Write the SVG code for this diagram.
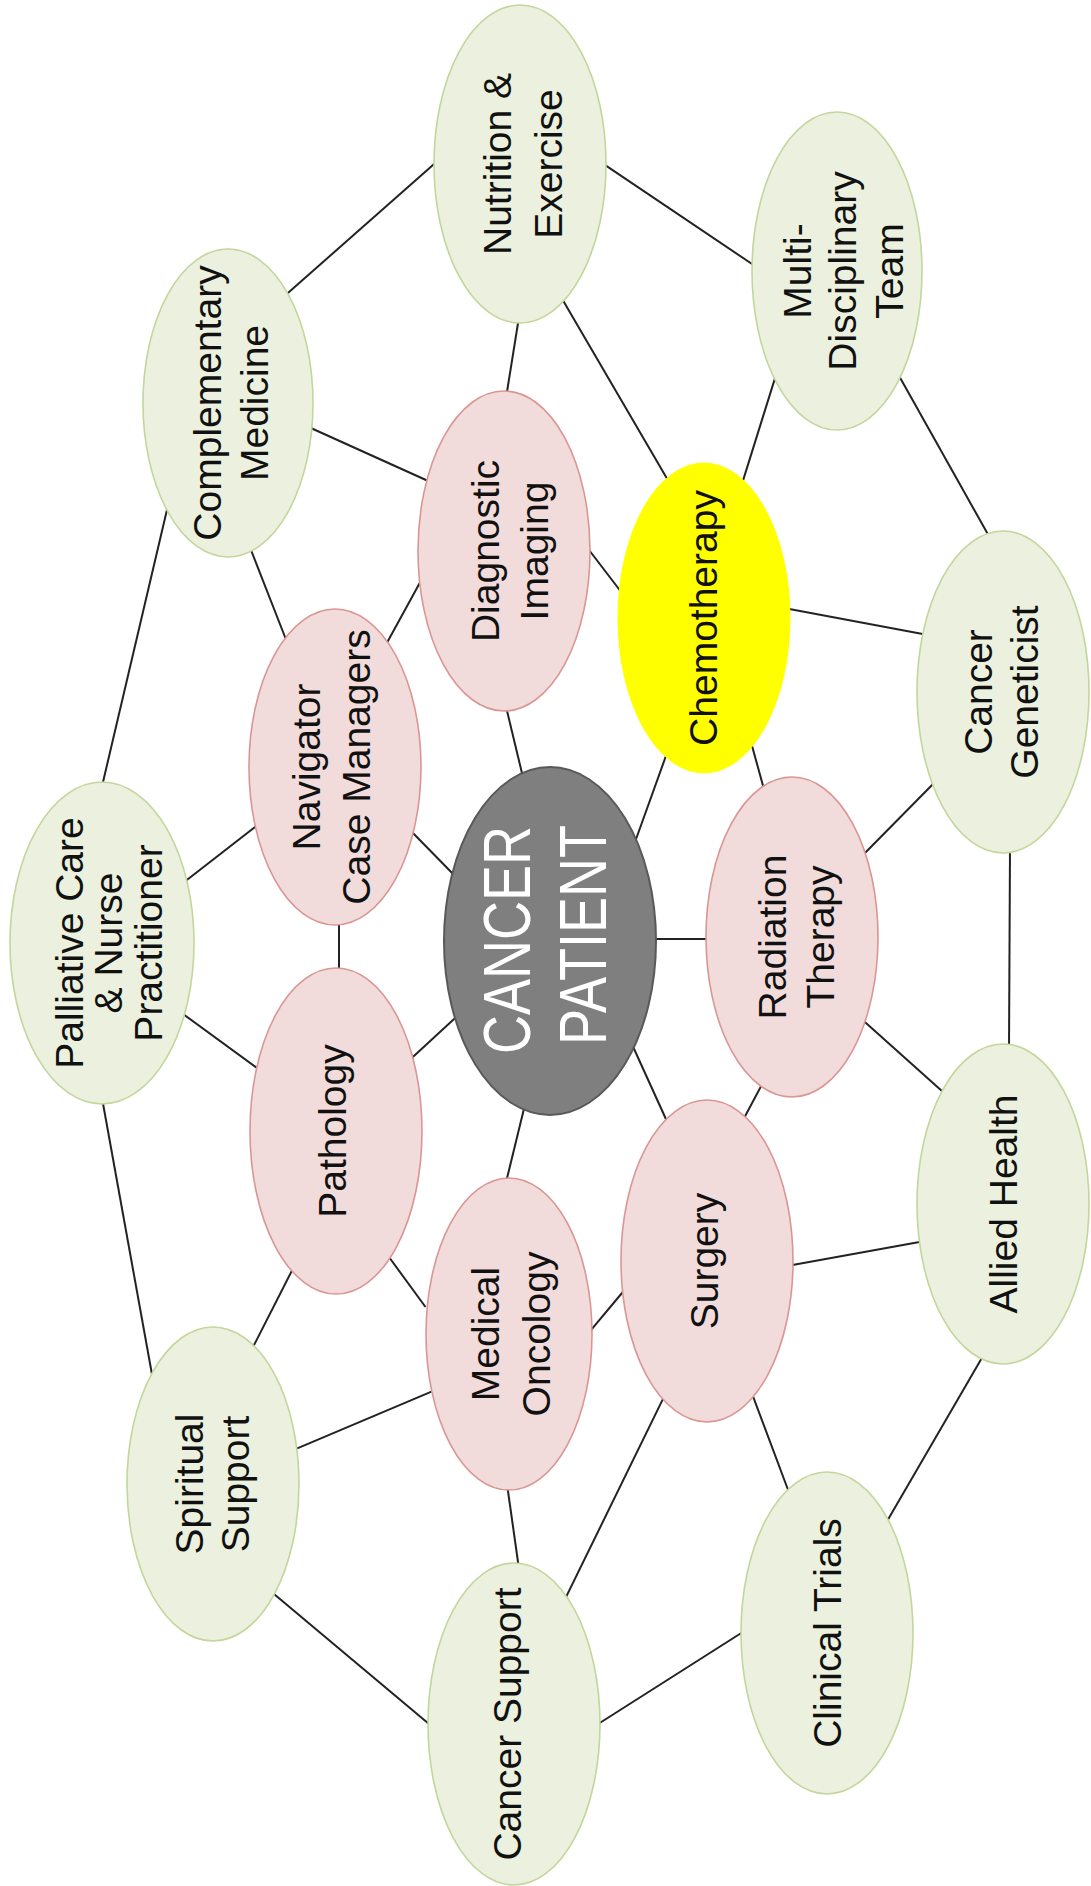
<svg xmlns="http://www.w3.org/2000/svg" width="1091" height="1886" viewBox="0 0 1091 1886">
<style>
.g{fill:#EBF1DE;stroke:#C3D69B;stroke-width:1.6}
.p{fill:#F2DCDB;stroke:#D99694;stroke-width:1.6}
.y{fill:#FFFF00;stroke:#FFFF00;stroke-width:1}
.c{fill:#7F7F7F;stroke:#595959;stroke-width:2}
.t{font-family:"Liberation Sans",Arial,sans-serif;font-size:39px;fill:#111;text-anchor:middle}
.w{font-family:"Liberation Sans",Arial,sans-serif;font-size:54px;fill:#FFFFFF;text-anchor:middle}
#edges line{stroke:#222;stroke-width:2}
</style>
<rect width="1091" height="1886" fill="#FFFFFF"/>
<g id="edges">
<line x1="284.5" y1="296" x2="437.5" y2="161"/>
<line x1="600" y1="161.6" x2="755" y2="266"/>
<line x1="519" y1="317" x2="506" y2="398"/>
<line x1="561" y1="297" x2="669" y2="482"/>
<line x1="776" y1="375" x2="741" y2="487"/>
<line x1="898" y1="374" x2="990" y2="538"/>
<line x1="307.5" y1="426.5" x2="431.5" y2="482.5"/>
<line x1="250" y1="547.5" x2="286" y2="639.5"/>
<line x1="167.4" y1="508" x2="101.6" y2="788"/>
<line x1="586" y1="546" x2="625" y2="597"/>
<line x1="423" y1="577" x2="383" y2="650"/>
<line x1="784" y1="608" x2="928" y2="635"/>
<line x1="505.6" y1="705" x2="523.4" y2="779"/>
<line x1="667" y1="753" x2="635" y2="842"/>
<line x1="750.4" y1="740" x2="765.6" y2="795"/>
<line x1="183" y1="883" x2="264" y2="820"/>
<line x1="410" y1="830" x2="456" y2="877"/>
<line x1="339" y1="919" x2="339" y2="975"/>
<line x1="181" y1="1012.5" x2="266" y2="1074.5"/>
<line x1="409.6" y1="1060" x2="458.4" y2="1015"/>
<line x1="650" y1="939" x2="712" y2="939"/>
<line x1="862" y1="856" x2="936" y2="781"/>
<line x1="1010" y1="847" x2="1009" y2="1051"/>
<line x1="861.5" y1="1019" x2="947.5" y2="1096"/>
<line x1="632.5" y1="1045.5" x2="667.5" y2="1122.5"/>
<line x1="764" y1="1080.6" x2="742" y2="1122"/>
<line x1="524.4" y1="1107" x2="505.6" y2="1184"/>
<line x1="102" y1="1098" x2="153" y2="1380"/>
<line x1="787" y1="1266" x2="925" y2="1241"/>
<line x1="387.5" y1="1255" x2="425.5" y2="1307"/>
<line x1="295" y1="1264.6" x2="251" y2="1351"/>
<line x1="588" y1="1333.6" x2="627" y2="1287"/>
<line x1="983" y1="1356" x2="886" y2="1523"/>
<line x1="751" y1="1391" x2="790" y2="1495"/>
<line x1="664.6" y1="1395.6" x2="564.4" y2="1600.4"/>
<line x1="431.5" y1="1391.7" x2="292.5" y2="1450.3"/>
<line x1="507" y1="1484" x2="519" y2="1569"/>
<line x1="270.4" y1="1591" x2="432.6" y2="1727"/>
<line x1="595" y1="1726" x2="746" y2="1630"/>
</g>
<g id="nutrition"><ellipse class="g" cx="520" cy="164" rx="86" ry="159"/>
<text class="t" transform="translate(511,164) rotate(-90)">Nutrition &amp;</text>
<text class="t" transform="translate(562,164) rotate(-90)">Exercise</text></g>
<g id="multi"><ellipse class="g" cx="837" cy="271" rx="85" ry="159"/>
<text class="t" transform="translate(811,271) rotate(-90)">Multi-</text>
<text class="t" transform="translate(856,271) rotate(-90)">Disciplinary</text>
<text class="t" transform="translate(903,271) rotate(-90)">Team</text></g>
<g id="complementary"><ellipse class="g" cx="228" cy="403" rx="85" ry="154"/>
<text class="t" transform="translate(221,403) rotate(-90)">Complementary</text>
<text class="t" transform="translate(268,403) rotate(-90)">Medicine</text></g>
<g id="diagnostic"><ellipse class="p" cx="504" cy="551" rx="86" ry="160"/>
<text class="t" transform="translate(499,551) rotate(-90)">Diagnostic</text>
<text class="t" transform="translate(548,551) rotate(-90)">Imaging</text></g>
<g id="chemo"><ellipse class="y" cx="704" cy="618" rx="86" ry="155"/>
<text class="t" transform="translate(717,618) rotate(-90)">Chemotherapy</text></g>
<g id="geneticist"><ellipse class="g" cx="1003" cy="692" rx="86" ry="161"/>
<text class="t" transform="translate(992,692) rotate(-90)">Cancer</text>
<text class="t" transform="translate(1038,692) rotate(-90)">Geneticist</text></g>
<g id="navigator"><ellipse class="p" cx="335" cy="767" rx="86" ry="158"/>
<text class="t" transform="translate(320,767) rotate(-90)">Navigator</text>
<text class="t" transform="translate(370,767) rotate(-90)">Case Managers</text></g>
<g id="palliative"><ellipse class="g" cx="102" cy="943" rx="92" ry="161"/>
<text class="t" transform="translate(83,943) rotate(-90)">Palliative Care</text>
<text class="t" transform="translate(122,943) rotate(-90)">&amp; Nurse</text>
<text class="t" transform="translate(162,943) rotate(-90)">Practitioner</text></g>
<g id="patient"><ellipse class="c" cx="550" cy="941" rx="106" ry="174"/>
<text class="w" transform="translate(530,940) rotate(-90) scale(1,1.22)">CANCER</text>
<text class="w" transform="translate(606,935) rotate(-90) scale(1,1.22)">PATIENT</text></g>
<g id="radiation"><ellipse class="p" cx="792" cy="937" rx="86" ry="160"/>
<text class="t" transform="translate(786,937) rotate(-90)">Radiation</text>
<text class="t" transform="translate(834,937) rotate(-90)">Therapy</text></g>
<g id="pathology"><ellipse class="p" cx="336" cy="1131" rx="86" ry="163"/>
<text class="t" transform="translate(346,1131) rotate(-90)">Pathology</text></g>
<g id="allied"><ellipse class="g" cx="1003" cy="1204" rx="86" ry="160"/>
<text class="t" transform="translate(1017,1204) rotate(-90)">Allied Health</text></g>
<g id="medonc"><ellipse class="p" cx="509" cy="1334" rx="83" ry="156"/>
<text class="t" transform="translate(499,1334) rotate(-90)">Medical</text>
<text class="t" transform="translate(550,1334) rotate(-90)">Oncology</text></g>
<g id="surgery"><ellipse class="p" cx="707" cy="1261" rx="86" ry="161"/>
<text class="t" transform="translate(718,1261) rotate(-90)">Surgery</text></g>
<g id="spiritual"><ellipse class="g" cx="213" cy="1484" rx="86" ry="157"/>
<text class="t" transform="translate(203,1484) rotate(-90)">Spiritual</text>
<text class="t" transform="translate(249,1484) rotate(-90)">Support</text></g>
<g id="cancersupport"><ellipse class="g" cx="514" cy="1724" rx="86" ry="161"/>
<text class="t" transform="translate(521,1724) rotate(-90)">Cancer Support</text></g>
<g id="clinical"><ellipse class="g" cx="827" cy="1633" rx="86" ry="161"/>
<text class="t" transform="translate(841,1633) rotate(-90)">Clinical Trials</text></g>
</svg>
